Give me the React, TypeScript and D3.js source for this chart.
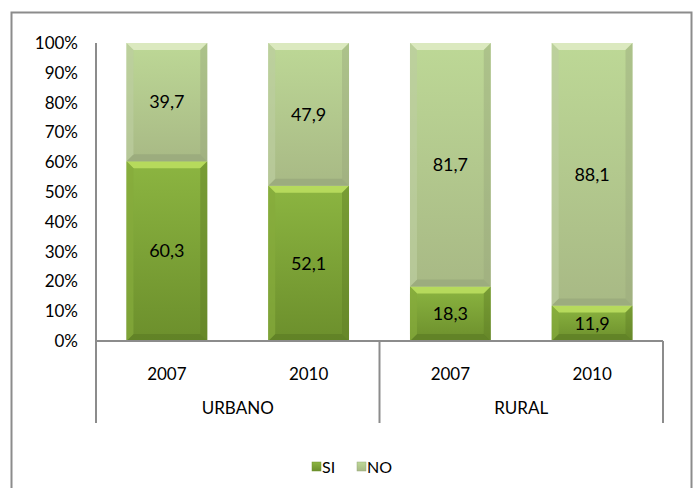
import React from "react";
import * as d3 from "d3";

const groups = ["URBANO", "URBANO", "RURAL", "RURAL"];
const years = ["2007", "2010", "2007", "2010"];
const siValues = [60.3, 52.1, 18.3, 11.9];
const noValues = [39.7, 47.9, 81.7, 88.1];
const yTicks = [0, 10, 20, 30, 40, 50, 60, 70, 80, 90, 100];
const groupNames = ["URBANO", "RURAL"];

const W = 693, H = 488;
const margin = {left: 96, top: 43};
const catWidth = 567;
const FONT = "Lato, 'Open Sans', sans-serif";

const fmt = (v: number) => v.toFixed(1).replace(".", ",");

function Segment({x, y, w, h, kind}: {x: number; y: number; w: number; h: number; kind: string}) {
  const b = Math.min(7, h / 2);
  const top = kind === "si" ? "#b6da5c" : "#dbe9bf";
  const bot = kind === "si" ? "#5f7f25" : "#99a97c";
  const side = kind === "si" ? "#86ab3c" : "#bccd9f";
  return (
    <g>
      <rect x={x} y={y} width={w} height={h} fill={`url(#body-${kind})`} />
      <polygon points={`${x},${y} ${x + w},${y} ${x + w - b},${y + b} ${x + b},${y + b}`} fill={top} />
      <polygon points={`${x},${y + h} ${x + w},${y + h} ${x + w - b},${y + h - b} ${x + b},${y + h - b}`} fill={bot} opacity={0.8} />
      <polygon points={`${x},${y} ${x + b},${y + b} ${x + b},${y + h - b} ${x},${y + h}`} fill={side} opacity={0.7} />
      <polygon points={`${x + w},${y} ${x + w - b},${y + b} ${x + w - b},${y + h - b} ${x + w},${y + h}`} fill={bot} opacity={0.45} />
    </g>
  );
}

export default function App() {
  const x = d3.scaleBand<number>()
    .domain(d3.range(years.length))
    .range([margin.left, margin.left + catWidth])
    .paddingInner(0.43)
    .paddingOuter(0.215);
  const y = d3.scaleLinear().domain([0, 100]).range([341, margin.top]);
  const axisY = y(0);
  const catRight = margin.left + catWidth;
  const step = x.step();

  return (
    <div style={{position: "absolute", left: 0, top: 0}}>
      <svg width={W} height={H} style={{display: "block", background: "#fff"}} fontFamily={FONT}>
        <defs>
          <linearGradient id="body-si" x1="0" y1="0" x2="0" y2="1">
            <stop offset="0" stopColor="#8cb541" />
            <stop offset="1" stopColor="#6c8f2c" />
          </linearGradient>
          <linearGradient id="body-no" x1="0" y1="0" x2="0" y2="1">
            <stop offset="0" stopColor="#bdd896" />
            <stop offset="1" stopColor="#a8b985" />
          </linearGradient>
        </defs>
        <rect x={11.5} y={12.5} width={680} height={480} fill="none" stroke="#8c8c8c" strokeWidth={2} />

        {yTicks.map(t => (
          <text key={t} x={78} y={y(t)} dy="0.35em" textAnchor="end" fontSize={17} fill="#000">{t}%</text>
        ))}

        {years.map((yr, i) => {
          const bx = x(i)!;
          const w = x.bandwidth();
          const ySi = y(siValues[i]);
          const yNo = y(siValues[i] + noValues[i]);
          return (
            <g key={i}>
              <Segment x={bx} y={ySi} w={w} h={axisY - ySi} kind="si" />
              <Segment x={bx} y={yNo} w={w} h={ySi - yNo} kind="no" />
              <text x={bx + w / 2} y={(ySi + axisY) / 2} dy="0.35em" textAnchor="middle" fontSize={18}>{fmt(siValues[i])}</text>
              <text x={bx + w / 2} y={(yNo + ySi) / 2} dy="0.35em" textAnchor="middle" fontSize={18}>{fmt(noValues[i])}</text>
              <text x={bx + w / 2} y={374} dy="0.35em" textAnchor="middle" fontSize={17}>{yr}</text>
            </g>
          );
        })}

        {groupNames.map(g => {
          const idx = groups.map((d, i) => (d === g ? i : -1)).filter(i => i >= 0);
          const cx = (x(idx[0])! + x(idx[idx.length - 1])! + x.bandwidth()) / 2;
          return <text key={g} x={cx} y={408} dy="0.35em" textAnchor="middle" fontSize={17}>{g}</text>;
        })}

        <g stroke="#8c8c8c" strokeWidth={2}>
          <line x1={margin.left} x2={margin.left} y1={margin.top} y2={423} />
          <line x1={margin.left} x2={catRight} y1={axisY} y2={axisY} />
          <line x1={margin.left + step * 2} x2={margin.left + step * 2} y1={axisY} y2={423} />
          <line x1={catRight} x2={catRight} y1={axisY} y2={423} />
        </g>

        <g>
          <rect x={312} y={462} width={9} height={9} fill="url(#body-si)" stroke="#6f932d" strokeWidth={0.5} />
          <text x={322} y={467} dy="0.35em" fontSize={16}>SI</text>
          <rect x={357} y={462} width={9} height={9} fill="url(#body-no)" stroke="#99a97c" strokeWidth={0.5} />
          <text x={367} y={467} dy="0.35em" fontSize={16}>NO</text>
        </g>
      </svg>
    </div>
  );
}
